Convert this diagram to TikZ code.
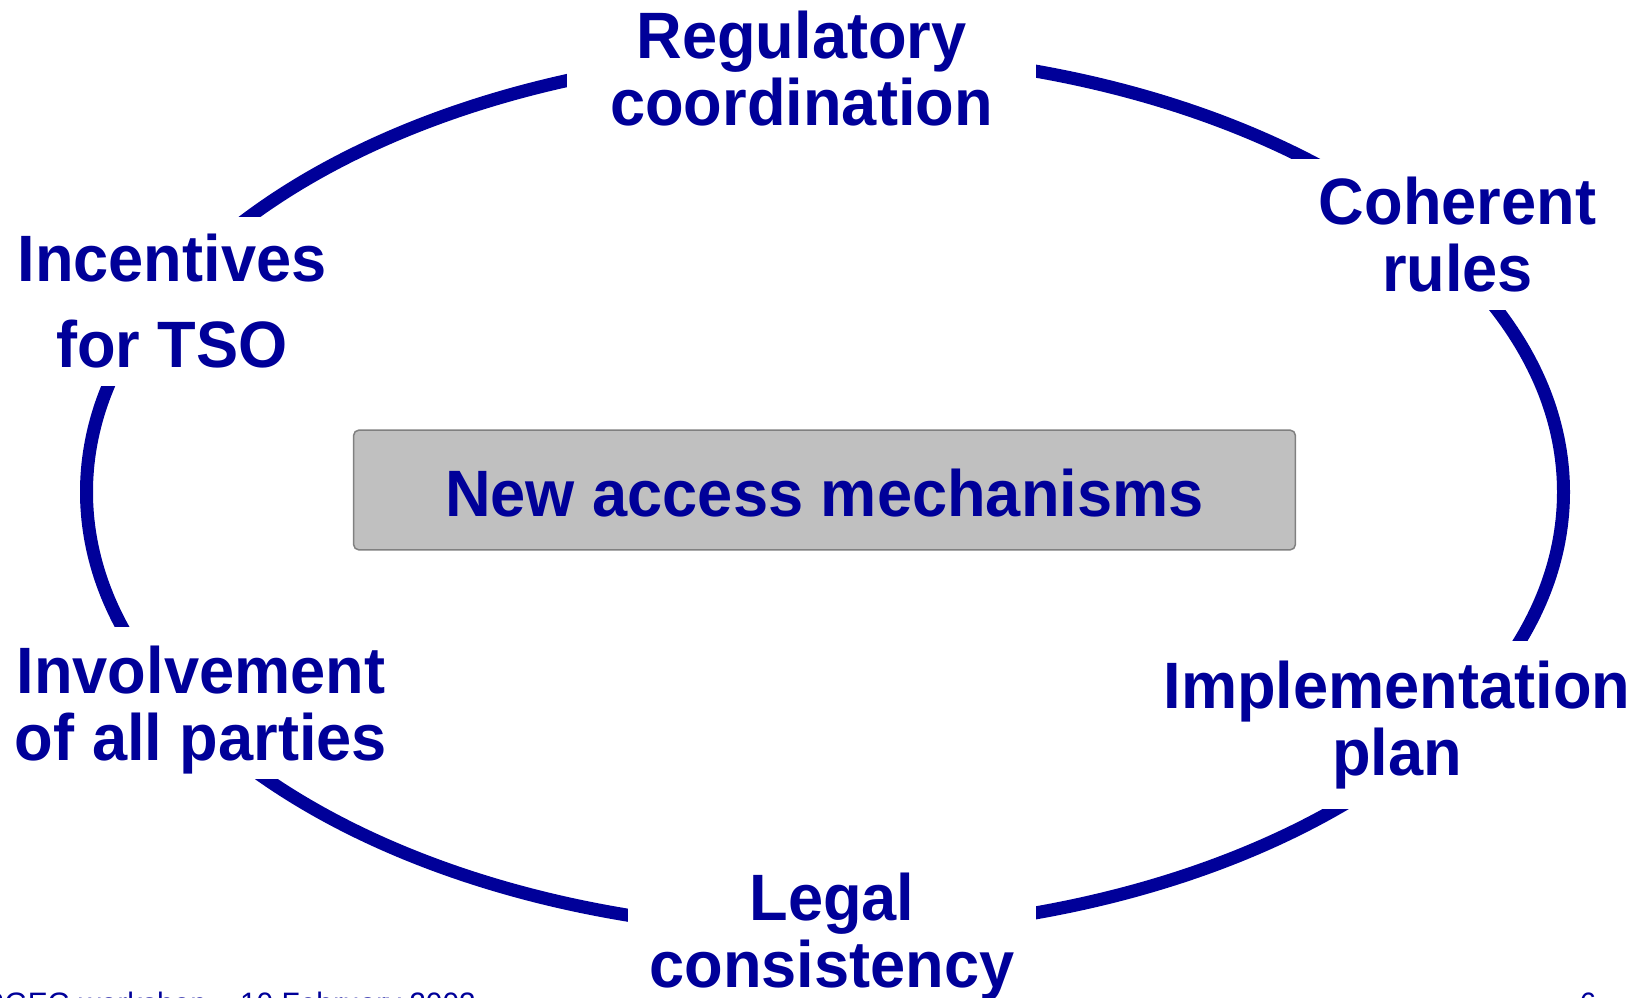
\documentclass[tikz,border=0pt]{standalone}
\usepackage{fontspec}
\setmainfont{Liberation Sans}[FakeStretch=0.963]
\usetikzlibrary{positioning}
\definecolor{navyblue}{RGB}{0,0,153}
\definecolor{silvergrey}{RGB}{192,192,192}
\definecolor{boxedge}{RGB}{128,128,128}

\begin{document}
\begin{tikzpicture}[x=1pt, y=-1pt]
    \tikzstyle{topic} = [rectangle, fill=white, text=navyblue, align=center, inner sep=0pt,
        font=\fontsize{65.6}{67}\selectfont\bfseries]
    \tikzstyle{hub} = [rectangle, rounded corners=5pt, draw=boxedge, line width=1.5pt,
        fill=silvergrey, text=navyblue, inner sep=0pt, font=\fontsize{65.6}{67}\selectfont\bfseries]
    \tikzstyle{footnote} = [inner sep=0pt, text=navyblue, font=\fontsize{31}{31}\selectfont]

    \useasboundingbox (0,0) rectangle (1646,998);

    % the cycle
    \draw[navyblue, line width=13pt] (825,492) ellipse [x radius=738.5pt, y radius=439pt];

    \node[topic, minimum width=469pt, minimum height=128pt] (regulatory) at (801.5,69) {Regulatory\\coordination};
    \node[topic, minimum width=355pt, minimum height=151.5pt] (coherent) at (1457.5,234.25) {Coherent\\rules};
    \node[topic, minimum width=480pt, minimum height=168pt] (implementation) at (1397,725) {Implementation\\plan};
    \node[topic, minimum width=408pt, minimum height=120pt] (legal) at (832,936.7) {Legal\\consistency};
    \node[topic, minimum width=390pt, minimum height=152pt] (involvement) at (201,703) {\rule{0pt}{61pt}Involvement\\of all parties};
    \node[topic, minimum width=330pt, minimum height=169pt] (incentives) at (172,301.5) {Incentives\\[19pt]for TSO};

    \node[hub, minimum width=941.6pt, minimum height=119.6pt] (mechanisms) at (824.5,490) {\rule{0pt}{53pt}New access mechanisms};

    \node[footnote, anchor=base east] (footer) at (476,1014.5) {ERGEG workshop – 10 February 2003};
    \node[footnote, anchor=base] (pagenum) at (1588,1014.5) {6};
\end{tikzpicture}
\end{document}
